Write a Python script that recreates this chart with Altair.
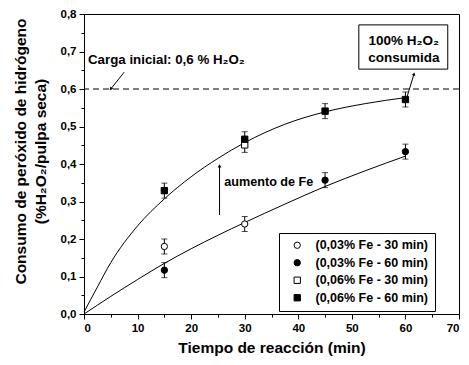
import altair as alt
import pandas as pd

FONT = "Liberation Sans"

# ---------------- data ----------------
series_names = ["(0,03% Fe - 30 min)", "(0,03% Fe - 60 min)",
                "(0,06% Fe - 30 min)", "(0,06% Fe - 60 min)"]

s1_t = [15, 30]
s1_v = [0.180, 0.240]
s1_e = [0.020, 0.020]

s2_t = [15, 45, 60]
s2_v = [0.117, 0.357, 0.433]
s2_e = [0.020, 0.020, 0.020]

s3_t = [30]
s3_v = [0.451]
s3_e = [0.020]

s4_t = [15, 30, 45, 60]
s4_v = [0.329, 0.466, 0.541, 0.572]
s4_e = [0.020, 0.020, 0.020, 0.020]

# fitted curves
fit_hi_t = [0, 2.5, 5, 10, 15, 20, 25, 30, 37.5, 45, 52.5, 60]
fit_hi_v = [0.005, 0.072, 0.137, 0.235, 0.307, 0.366, 0.415, 0.457, 0.506, 0.539, 0.561, 0.577]

fit_lo_t = [0, 5, 10, 15, 20, 25, 30, 37.5, 45, 52.5, 60]
fit_lo_v = [0.000, 0.047, 0.092, 0.135, 0.174, 0.210, 0.244, 0.293, 0.340, 0.382, 0.421]

initial_load = 0.6

x_ticks = [0, 5, 10, 15, 20, 25, 30, 35, 40, 45, 50, 55, 60, 65, 70]
y_ticks = [0.0, 0.05, 0.1, 0.15, 0.2, 0.25, 0.3, 0.35, 0.4, 0.45, 0.5, 0.55,
           0.6, 0.65, 0.7, 0.75, 0.8]

# ---------------- tables ----------------
rows = []
for name, ts, vs, es in zip(series_names, [s1_t, s2_t, s3_t, s4_t],
                            [s1_v, s2_v, s3_v, s4_v], [s1_e, s2_e, s3_e, s4_e]):
    for t, v, e in zip(ts, vs, es):
        rows.append({"series": name, "t": t, "v": v, "lo": v - e, "hi": v + e})
pts = pd.DataFrame(rows)

curves = pd.concat([
    pd.DataFrame({"curve": "hi", "t": fit_hi_t, "v": fit_hi_v}),
    pd.DataFrame({"curve": "lo", "t": fit_lo_t, "v": fit_lo_v}),
])

xs = alt.Scale(domain=[0, 70], nice=False)
ys = alt.Scale(domain=[0, 0.8], nice=False)

x_major = "datum.value % 10 == 0"
y_major = "round(datum.value * 100) % 10 == 0"

x_axis = alt.Axis(values=x_ticks, labelExpr=f"{x_major} ? format(datum.value, 'd') : ''",
                  labelOverlap=False, labelFontSize=11.5, titleFontSize=15.5,
                  titlePadding=7, labelPadding=3,
                  tickSize={"condition": {"test": x_major, "value": 5}, "value": 3})
y_axis = alt.Axis(values=y_ticks,
                  labelExpr=f"{y_major} ? replace(format(datum.value, '.1f'), '.', ',') : ''",
                  labelOverlap=False, labelFontSize=11.5, titleFontSize=15.5,
                  titleLineHeight=20, titlePadding=12, labelPadding=3, titleY=137,
                  tickSize={"condition": {"test": y_major, "value": 5}, "value": 3})
Y_TITLE = ["Consumo de peróxido de hidrógeno", "(%H₂O₂/pulpa seca)"]
X = alt.X("t:Q", scale=xs, axis=x_axis, title="Tiempo de reacción (min)")
Y = alt.Y("v:Q", scale=ys, axis=y_axis, title=Y_TITLE)

dashed = alt.Chart(pd.DataFrame({"v": [initial_load]})).mark_rule(
    color="black", strokeWidth=1, strokeDash=[6, 4]).encode(y=Y)

lines = alt.Chart(curves).mark_line(color="black", strokeWidth=1, interpolate="monotone").encode(
    x=X, y=Y, detail="curve:N")

ebars = alt.Chart(pts).mark_errorbar(ticks=True, size=6, thickness=1, color="black").encode(
    x=X, y=alt.Y("lo:Q", scale=ys, axis=y_axis, title=Y_TITLE), y2="hi:Q")

legend = alt.Legend(title=None, orient="none", legendX=195, legendY=219, offset=0,
                    strokeColor="black", fillColor="white", padding=6,
                    labelFont=FONT, labelFontSize=12.5, labelFontWeight="bold",
                    labelColor="black", rowPadding=4.5, symbolOffset=6, labelOffset=12,
                    labelExpr="datum.label + '\u00a0\u00a0\u00a0'",
                    symbolStrokeWidth=1, symbolSize=40)
shape_scale = alt.Scale(domain=series_names, range=["circle", "circle", "square", "square"])
fill_scale = alt.Scale(domain=series_names, range=["white", "black", "white", "black"])
stroke_scale = alt.Scale(domain=series_names, range=["black", "black", "black", "black"])
points = alt.Chart(pts).mark_point(strokeWidth=1, opacity=1, size=40).encode(
    x=X, y=Y,
    shape=alt.Shape("series:N", scale=shape_scale, legend=legend),
    fill=alt.Fill("series:N", scale=fill_scale, legend=legend),
    stroke=alt.Stroke("series:N", scale=stroke_scale, legend=legend))

# ---------------- annotations ----------------
box = alt.Chart(pd.DataFrame({"t": [51.3], "t2": [67.9], "v": [0.653], "v2": [0.771]})).mark_rect(
    fill="white", stroke="black", strokeWidth=1).encode(x=X, x2="t2:Q", y=Y, y2="v2:Q")

texts = pd.DataFrame({
    "t": [0.75, 59.7, 59.7, 26.2],
    "v": [0.677, 0.727, 0.683, 0.351],
    "label": ["Carga inicial: 0,6 % H₂O₂", "100% H₂O₂", "consumida", "aumento de Fe"],
    "size": [13.3, 13.5, 13.5, 12.6],
    "align": ["left", "center", "center", "left"],
})
txt_left = alt.Chart(texts[texts["align"] == "left"]).mark_text(
    align="left", baseline="middle", font=FONT, fontWeight="bold", color="black"
).encode(x=X, y=Y, text="label:N", size=alt.Size("size:Q", scale=None, legend=None))
txt_center = alt.Chart(texts[texts["align"] == "center"]).mark_text(
    align="center", baseline="middle", font=FONT, fontWeight="bold", color="black"
).encode(x=X, y=Y, text="label:N", size=alt.Size("size:Q", scale=None, legend=None))

arrow_pts = pd.DataFrame({
    "arrow": ["carga", "carga", "full", "full", "fe", "fe"],
    "t": [7.5, 5.0, 60.3, 61.6, 25.3, 25.3],
    "v": [0.645, 0.600, 0.579, 0.640, 0.264, 0.395],
})
arrow_heads = pd.DataFrame({
    "t": [5.0, 61.6, 25.3],
    "v": [0.600, 0.640, 0.395],
    "ang": [217, 17, 0],
})
arrow_lines = alt.Chart(arrow_pts).mark_line(color="black", strokeWidth=1).encode(
    x=X, y=Y, detail="arrow:N")
heads = alt.Chart(arrow_heads).mark_point(shape="triangle-up", filled=True, color="black",
                                          size=14, opacity=1).encode(
    x=X, y=Y, angle=alt.Angle("ang:Q", scale=None))

chart = alt.layer(dashed, lines, box, txt_left, txt_center, arrow_lines, heads,
                  ebars, points).properties(
    width=375, height=300, padding={"left": 5, "top": 0, "right": 0, "bottom": 0}
).configure_view(stroke="black", strokeWidth=1).configure_axis(
    grid=False, domainColor="black", tickColor="black",
    labelFont=FONT, labelFontWeight="bold", labelColor="black",
    titleFont=FONT, titleFontWeight="bold", titleColor="black",
)

chart.save("out.html", embed_options={"renderer": "svg", "actions": False})
